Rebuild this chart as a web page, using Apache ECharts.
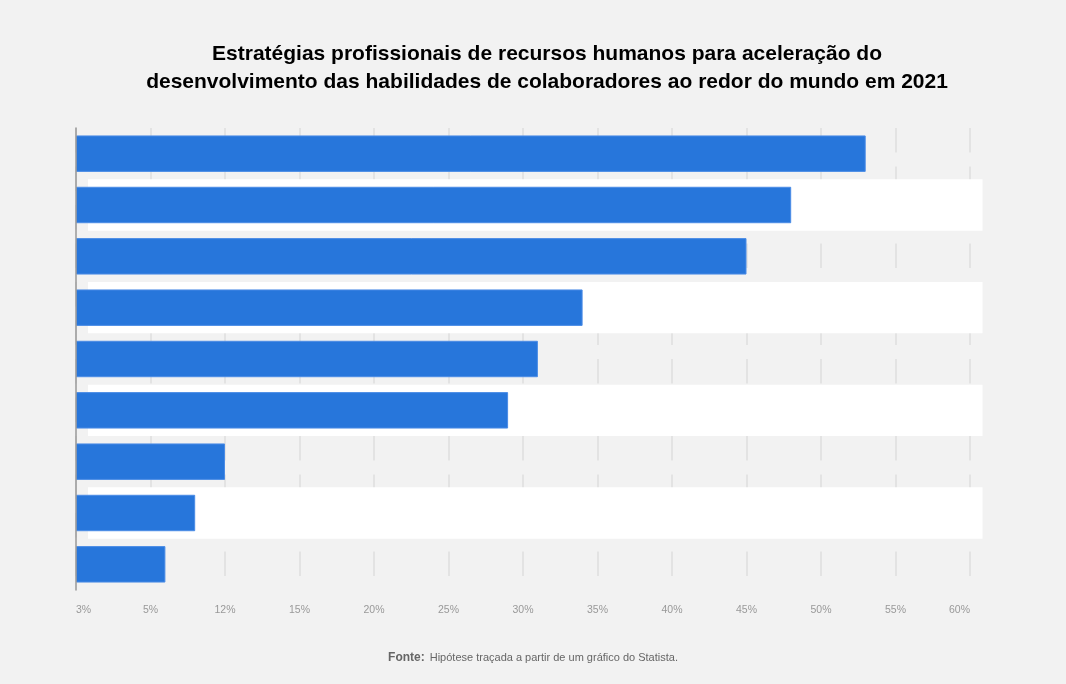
<!DOCTYPE html>
<html>
<head>
<meta charset="utf-8">
<script src="https://cdn.jsdelivr.net/npm/echarts@6/dist/echarts.min.js"></script>
<style>
  html, body { margin: 0; padding: 0; background: #f2f2f2; }
  #chart { width: 1066px; height: 684px; }
</style>
</head>
<body>
<div id="chart"></div>
<script>
// Categories (no text labels are shown in the chart)
const categories = ['1', '2', '3', '4', '5', '6', '7', '8', '9'];
// Bar values (percent, top to bottom)
const values = [53, 48, 45, 34, 31, 29, 10, 8, 6];
// Tick labels as printed on the x axis
const tickLabels = ['3%', '5%', '12%', '15%', '20%', '25%', '30%', '35%', '40%', '45%', '50%', '55%', '60%'];

const titleText = 'Estratégias profissionais de recursos humanos para aceleração do\ndesenvolvimento das habilidades de colaboradores ao redor do mundo em 2021';

const chart = echarts.init(document.getElementById('chart'), null, { renderer: 'canvas' });
const sans = "'Liberation Sans', Arial, sans-serif";

chart.setOption({
  backgroundColor: '#f2f2f2',
  animation: false,
  title: [
    {
      text: titleText,
      left: 542,
      textAlign: 'center',
      top: 35,
      textStyle: {
        fontFamily: sans,
        fontSize: 21,
        fontWeight: 'bold',
        color: '#000',
        lineHeight: 28
      }
    },
    {
      text: '{b|Fonte:} {n|Hipótese traçada a partir de um gráfico do Statista.}',
      left: 'center',
      top: 644,
      textStyle: {
        fontWeight: 'normal',
        rich: {
          b: { fontFamily: sans, fontWeight: 'bold', fontSize: 12, color: '#666' },
          n: { fontFamily: sans, fontWeight: 'normal', fontSize: 11, color: '#666' }
        }
      }
    }
  ],
  grid: [
    { left: 76, right: 96, top: 128, bottom: 94, containLabel: false },
    { left: 88, right: 83.5, top: 128, bottom: 94, containLabel: false }
  ],
  xAxis: [
    {
      gridIndex: 0,
      type: 'value',
      min: 0,
      max: 60,
      interval: 5,
      z: 0,
      axisLine: { show: false },
      axisTick: { show: false },
      axisLabel: {
        margin: 15,
        color: '#999',
        fontSize: 10.5,
        fontFamily: sans,
        alignMinLabel: 'left',
        alignMaxLabel: 'right',
        formatter: function (v) { return tickLabels[Math.round(v / 5)]; }
      },
      splitLine: {
        show: true,
        lineStyle: { color: '#e3e3e3', width: 2, type: [24.5, 14] }
      }
    },
    {
      gridIndex: 1,
      type: 'value',
      show: false,
      min: 0,
      max: 1
    }
  ],
  yAxis: [
    {
      gridIndex: 0,
      type: 'category',
      data: categories,
      inverse: true,
      z: 3,
      axisLine: { show: true, lineStyle: { color: '#999', width: 1.5 } },
      axisTick: { show: false },
      axisLabel: { show: false },
      splitLine: { show: false }
    },
    {
      gridIndex: 1,
      type: 'category',
      data: categories,
      inverse: true,
      z: 1,
      axisLine: { show: false },
      axisTick: { show: false },
      axisLabel: { show: false },
      splitLine: { show: false },
      splitArea: {
        show: true,
        areaStyle: { color: ['rgba(0,0,0,0)', '#ffffff'] }
      }
    }
  ],
  series: [
    {
      type: 'bar',
      xAxisIndex: 0,
      yAxisIndex: 0,
      data: values,
      barWidth: '71%',
      z: 2,
      itemStyle: {
        color: '#2776db',
        borderColor: '#4b8ce6',
        borderWidth: 1
      }
    }
  ]
});
</script>
</body>
</html>
